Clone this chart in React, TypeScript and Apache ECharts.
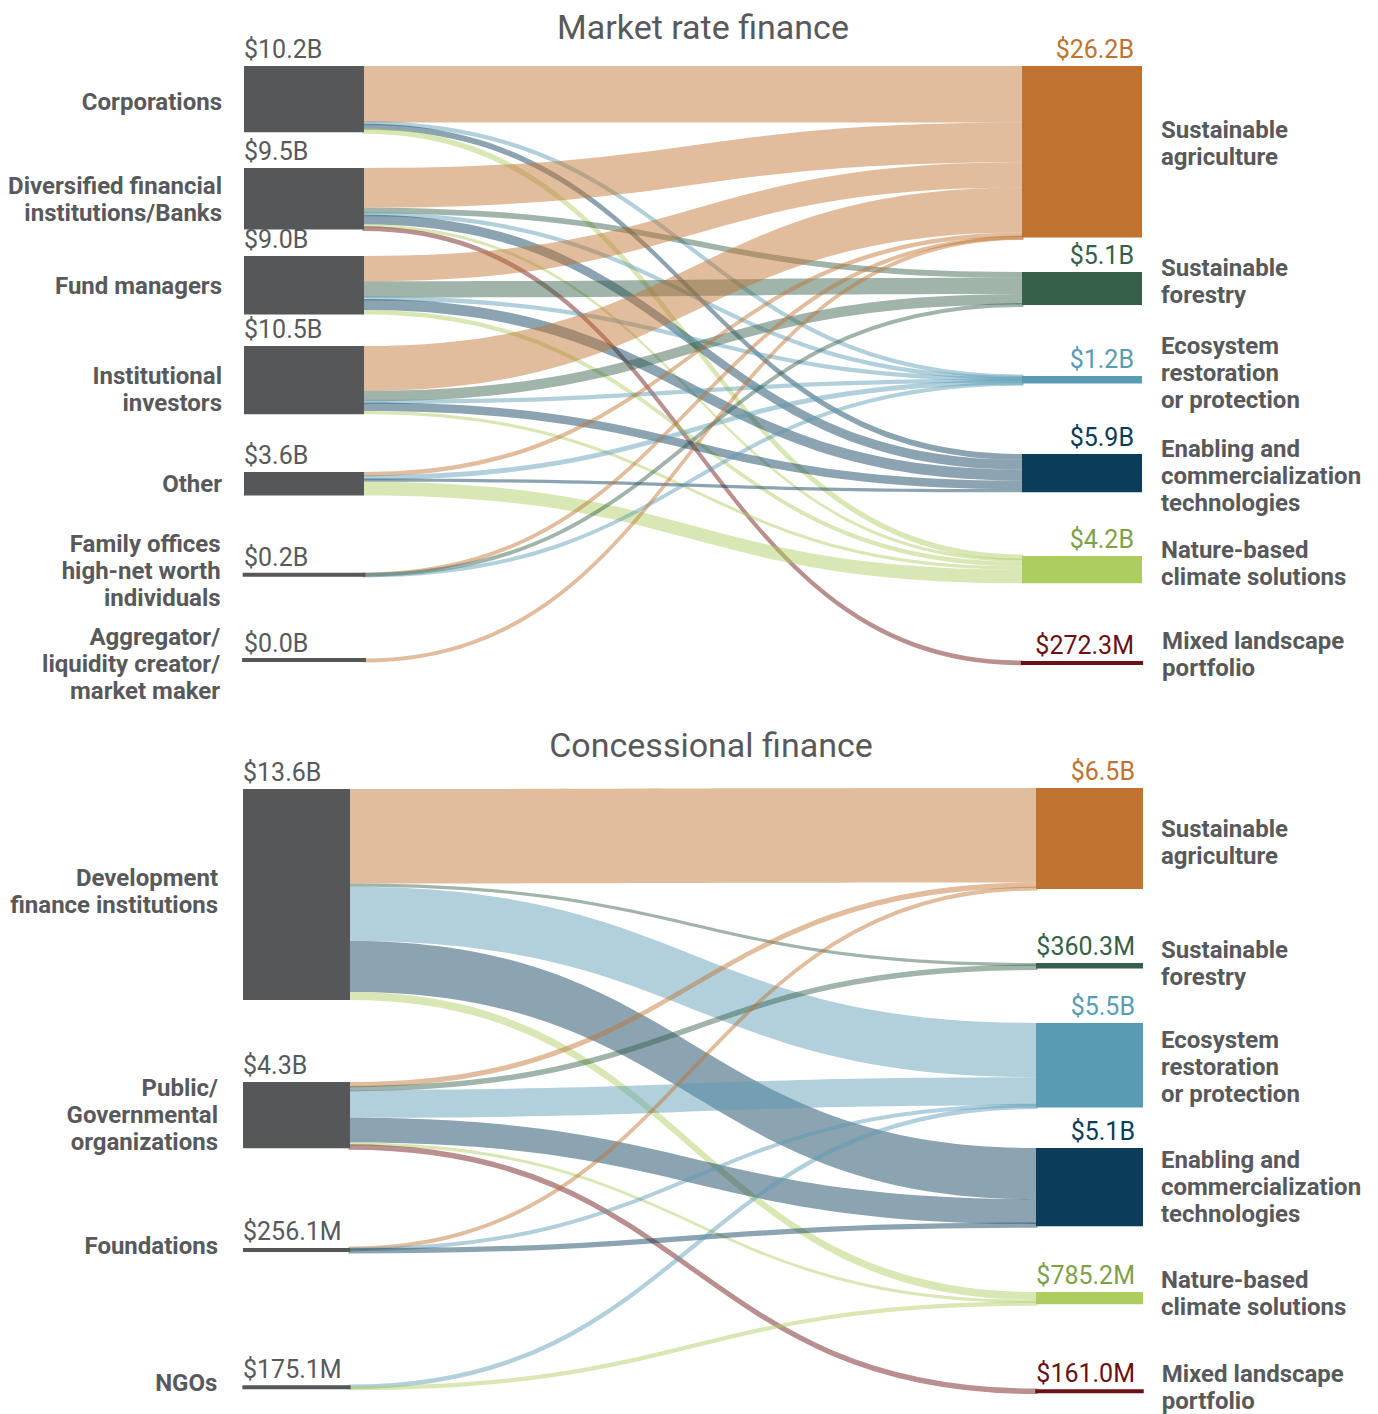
import { useEffect, useRef } from "react";
import * as echarts from "echarts";

const FONT = "Roboto, 'Liberation Sans', sans-serif";
const TEXT_GREY = "#58595b";
const NODE_GREY = "#555759";

// ---- shared targets ----
const targetNames = [
  "Sustainable\nagriculture",
  "Sustainable\nforestry",
  "Ecosystem\nrestoration\nor protection",
  "Enabling and\ncommercialization\ntechnologies",
  "Nature-based\nclimate solutions",
  "Mixed landscape\nportfolio",
];
const targetColors = ["#c07230", "#365f4a", "#5a9bb4", "#0b3c5a", "#adcd5e", "#6b1014"];
const targetLabelColors = ["#c07230", "#365f4a", "#5a9bb4", "#0b3c5a", "#7f9f48", "#6b1014"];

// ---- Market rate finance ----
const marketSources = [
  "Corporations",
  "Diversified financial\ninstitutions/Banks",
  "Fund managers",
  "Institutional\ninvestors",
  "Other",
  "Family offices\nhigh-net worth\nindividuals",
  "Aggregator/\nliquidity creator/\nmarket maker",
];
const marketSourceTotals = ["$10.2B", "$9.5B", "$9.0B", "$10.5B", "$3.6B", "$0.2B", "$0.0B"];
const marketTargetTotals = ["$26.2B", "$5.1B", "$1.2B", "$5.9B", "$4.2B", "$272.3M"];
// flows in $B, columns follow targetNames order
const marketCorporations = [8.7, 0, 0.2, 0.9, 0.4, 0];
const marketBanks = [6.1, 0.9, 0.2, 1.5, 0.5, 0.27];
const marketFundManagers = [3.9, 2.5, 0.2, 1.7, 0.7, 0];
const marketInstitutional = [6.9, 1.6, 0.2, 1.3, 0.5, 0];
const marketOther = [0.7, 0, 0.3, 0.5, 2.1, 0];
const marketFamilyOffices = [0.07, 0.08, 0.05, 0, 0, 0];
const marketAggregator = [0.02, 0, 0, 0, 0, 0];
const marketFlows = [
  marketCorporations,
  marketBanks,
  marketFundManagers,
  marketInstitutional,
  marketOther,
  marketFamilyOffices,
  marketAggregator,
];

// ---- Concessional finance ----
const concSources = [
  "Development\nfinance institutions",
  "Public/\nGovernmental\norganizations",
  "Foundations",
  "NGOs",
];
const concSourceTotals = ["$13.6B", "$4.3B", "$256.1M", "$175.1M"];
const concTargetTotals = ["$6.5B", "$360.3M", "$5.5B", "$5.1B", "$785.2M", "$161.0M"];
const concDFI = [6.1, 0.2, 3.5, 3.3, 0.51, 0];
const concPublic = [0.35, 0.16, 1.8, 1.6, 0.2, 0.161];
const concFoundations = [0.06, 0, 0.05, 0.146, 0, 0];
const concNGOs = [0, 0, 0.1, 0, 0.075, 0];
const concFlows = [concDFI, concPublic, concFoundations, concNGOs];

// ---- layout (positions / sizes, kept apart from data) ----
const THIN_LINK = 3; // links thinner than this get a visible stroke
const THIN_STROKE = 3;
const MIN_NODE = 4;
const NAME_SIZE = 24;
const VALUE_SIZE = 25;
const panels = [
  {
    key: "m",
    title: "Market rate finance",
    titleX: 703,
    titleY: 10,
    sources: marketSources,
    sourceTotals: marketSourceTotals,
    targetTotals: marketTargetTotals,
    flows: marketFlows,
    left: 244,
    width: 898,
    top: 66,
    nodeWidth: 120,
    ky: 6.5,
    sourceTops: [66, 168, 256, 346, 472, 574, 660],
    targetTops: [66, 272, 376, 454, 556, 662],
    sourceNameShift: [3, 1, 1, 9, 0, -4, 4],
    targetNameShift: [-8, -7, -7, 3, -6, -8],
    gapL: 22,
    gapR: 19,
  },
  {
    key: "c",
    title: "Concessional finance",
    titleX: 711,
    titleY: 728,
    sources: concSources,
    sourceTotals: concSourceTotals,
    targetTotals: concTargetTotals,
    flows: concFlows,
    left: 243,
    width: 900,
    top: 787,
    nodeWidth: 107,
    ky: 15.5,
    sourceTops: [789, 1082, 1248, 1386],
    targetTops: [788, 963, 1023, 1148, 1292, 1390],
    sourceNameShift: [-3, 0, -4, -4],
    targetNameShift: [4, -2, 2, 0, -5, -4],
    gapL: 25,
    gapR: 18,
  },
];

function rgba(hex: string, a: number) {
  const n = parseInt(hex.slice(1), 16);
  return `rgba(${(n >> 16) & 255},${(n >> 8) & 255},${n & 255},${a})`;
}
const sum = (a: number[]) => a.reduce((s, v) => s + v, 0);

function buildSeries(p: any, mode: "main" | "values") {
  const main = mode === "main";
  const total = sum(p.flows.map((r: number[]) => sum(r)));
  const H = p.ky * total;
  const targetSums = targetNames.map((_, j) => sum(p.flows.map((r: number[]) => r[j])));
  const nameLabel = (name: string, side: "left" | "right", gap: number, shift: number) => ({
    position: side,
    distance: gap,
    offset: [0, shift],
    formatter: name,
    fontFamily: FONT,
    fontSize: NAME_SIZE,
    fontWeight: "bold",
    lineHeight: 27,
    color: TEXT_GREY,
  });
  const nodes: any[] = [];
  p.sources.forEach((name: string, i: number) => {
    const h = sum(p.flows[i]) * p.ky;
    nodes.push({
      name: `${p.key}-s${i}`,
      localY: (p.sourceTops[i] - p.top) / H,
      itemStyle: main
        ? { color: NODE_GREY, borderColor: NODE_GREY, borderWidth: h < MIN_NODE ? MIN_NODE - h : 0 }
        : { color: "rgba(0,0,0,0)", borderWidth: 0 },
      label: main
        ? nameLabel(name, "left", p.gapL, p.sourceNameShift[i])
        : {
            position: [0, -3],
            align: "left",
            verticalAlign: "bottom",
            formatter: p.sourceTotals[i],
            fontFamily: FONT,
            fontSize: VALUE_SIZE,
            lineHeight: 28,
            color: TEXT_GREY,
          },
    });
  });
  targetNames.forEach((name, j) => {
    const h = targetSums[j] * p.ky;
    nodes.push({
      name: `${p.key}-t${j}`,
      localY: (p.targetTops[j] - p.top) / H,
      itemStyle: main
        ? {
            color: targetColors[j],
            borderColor: targetColors[j],
            borderWidth: h < MIN_NODE ? MIN_NODE - h : 0,
          }
        : { color: "rgba(0,0,0,0)", borderWidth: 0 },
      label: main
        ? nameLabel(name, "right", p.gapR, p.targetNameShift[j])
        : {
            position: [p.nodeWidth - 8, -3],
            align: "right",
            verticalAlign: "bottom",
            formatter: p.targetTotals[j],
            fontFamily: FONT,
            fontSize: VALUE_SIZE,
            lineHeight: 28,
            color: targetLabelColors[j],
          },
    });
  });
  const links: any[] = [];
  p.flows.forEach((row: number[], i: number) => {
    row.forEach((v, j) => {
      if (!v) return;
      const w = v * p.ky;
      const c = rgba(targetColors[j], 0.47);
      let lineStyle: any;
      if (!main) lineStyle = { opacity: 0 };
      else if (w >= THIN_LINK) lineStyle = { color: c, opacity: 1 };
      else
        lineStyle = {
          color: "rgba(0,0,0,0)",
          borderColor: c,
          borderWidth: THIN_STROKE,
          opacity: 1,
        };
      links.push({ source: `${p.key}-s${i}`, target: `${p.key}-t${j}`, value: v, lineStyle });
    });
  });
  return {
    type: "sankey",
    left: p.left,
    top: p.top,
    width: p.width,
    height: H,
    nodeWidth: p.nodeWidth,
    nodeGap: 0,
    layoutIterations: 0,
    nodeAlign: "justify",
    draggable: false,
    silent: true,
    emphasis: { disabled: true },
    z: main ? 2 : 3,
    data: nodes,
    links,
  };
}

export default function App() {
  const ref = useRef<HTMLDivElement>(null);
  useEffect(() => {
    document.body.style.margin = "0";
    const chart = echarts.init(ref.current!, null, { renderer: "svg" });
    const series: any[] = [];
    panels.forEach((p) => series.push(buildSeries(p, "main")));
    panels.forEach((p) => series.push(buildSeries(p, "values")));
    chart.setOption({
      animation: false,
      backgroundColor: "#ffffff",
      graphic: panels.map((p) => ({
        type: "text",
        x: p.titleX,
        y: p.titleY,
        silent: true,
        style: {
          text: p.title,
          fill: TEXT_GREY,
          font: `34px ${FONT}`,
          textAlign: "center",
          textVerticalAlign: "top",
        },
      })),
      series,
    });
    return () => chart.dispose();
  }, []);
  return <div ref={ref} style={{ width: 1378, height: 1414 }} />;
}
